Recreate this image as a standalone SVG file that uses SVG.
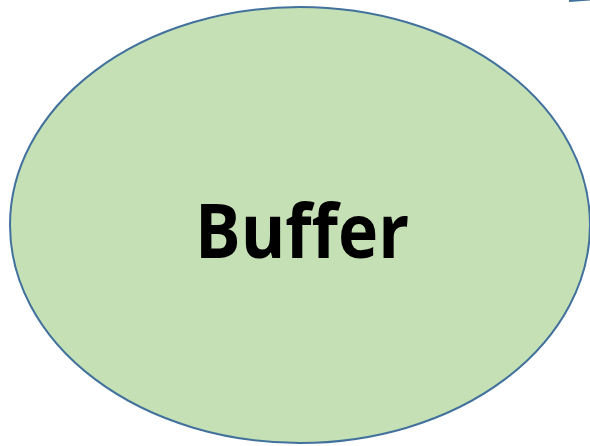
<svg xmlns="http://www.w3.org/2000/svg" width="590" height="446" viewBox="0 0 590 446">
<style>
.node{fill:#C5E0B4;stroke:#41719C;stroke-width:2}
.lbl{font-family:"Open Sans","Liberation Sans",sans-serif;font-weight:bold;font-size:76px;fill:#000}
.edge{fill:none;stroke:#41719C;stroke-width:2}
</style>
<rect width="590" height="446" fill="#fff"/>
<g id="connectors">
<path class="edge" d="M569,1 Q580,0.5 591,-0.5"/>
</g>
<g id="buffer">
<ellipse class="node" cx="300" cy="225" rx="290" ry="218"/>
<text class="lbl" x="302" y="258" text-anchor="middle" textLength="214" lengthAdjust="spacingAndGlyphs">Buffer</text>
</g>
</svg>
